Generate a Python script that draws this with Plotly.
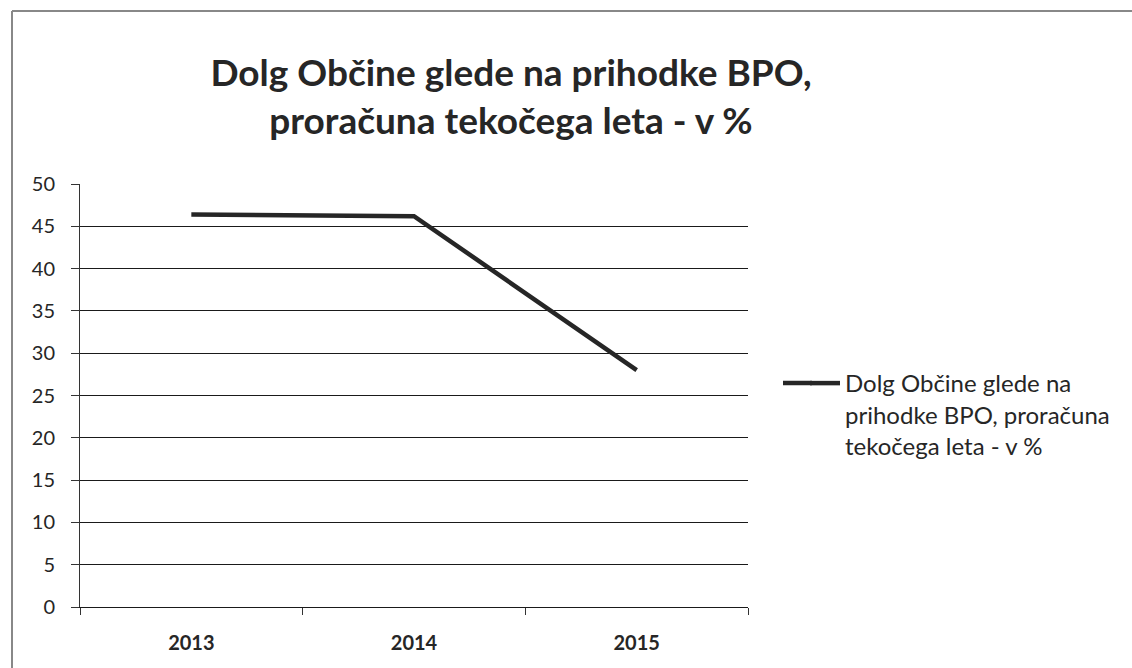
import plotly.graph_objects as go

years = ["2013", "2014", "2015"]
debt_pct = [46.4, 46.2, 28.0]
series_name = "Dolg Občine glede na<br>prihodke BPO, proračuna<br>tekočega leta - v %"
title_text = "Dolg Občine glede na prihodke BPO,<br>proračuna tekočega leta - v %"

W, H = 1132, 668
L, T = 80, 184
R = W - 748
B = H - 607
pw, ph = W - L - R, H - T - B

def px_x(x):
    return (x - L) / pw

def px_y(y):
    return (H - B - y) / ph

FONT = "Lato, Carlito, Calibri, sans-serif"
INK = "#262626"

fig = go.Figure()
fig.add_trace(go.Scatter(
    x=years, y=debt_pct, mode="lines", name=series_name,
    line=dict(color=INK, width=4.5),
))

fig.update_layout(
    width=W, height=H,
    margin=dict(l=L, r=R, t=T, b=B),
    paper_bgcolor="white", plot_bgcolor="white",
    font=dict(family=FONT, size=20, color=INK),
    title=dict(
        text=title_text, x=511 / W, xanchor="center", xref="container",
        y=1 - 86 / H, yanchor="top", yref="container",
        font=dict(family=FONT, size=37, color=INK, weight="bold"),
    ),
    showlegend=True,
    legend=dict(
        x=px_x(805), xanchor="left", y=px_y(361), yanchor="top",
        font=dict(family=FONT, size=24, color=INK),
        valign="top", bgcolor="rgba(0,0,0,0)",
    ),
    xaxis=dict(
        type="category", range=[-0.5, 2.5], showgrid=False,
        showline=True, linecolor="#1a1a1a", linewidth=1,
        ticks="outside", tickson="boundaries", ticklen=7, tickcolor="#333",
        ticklabelstandoff=18,
        tickfont=dict(family=FONT, size=20, color=INK, weight="bold"),
        zeroline=False,
    ),
    yaxis=dict(
        range=[0, 50], dtick=5, showgrid=True, gridcolor="#1a1a1a", gridwidth=1,
        showline=True, linecolor="#333", linewidth=1,
        ticks="outside", ticklen=8, tickcolor="#333",
        ticklabelstandoff=12,
        tickfont=dict(family=FONT, size=20, color=INK),
        zeroline=False,
    ),
    shapes=[
        dict(type="line", xref="paper", yref="paper",
             x0=px_x(12), x1=px_x(12), y0=px_y(668), y1=px_y(11),
             line=dict(color="#888", width=2)),
        dict(type="line", xref="paper", yref="paper",
             x0=px_x(12), x1=px_x(1132), y0=px_y(11), y1=px_y(11),
             line=dict(color="#888", width=2)),
        # lengthen the legend key line to the left, as in the original
        dict(type="line", xref="paper", yref="paper",
             x0=px_x(783), x1=px_x(812), y0=px_y(383), y1=px_y(383),
             line=dict(color=INK, width=4.5)),
    ],
)

fig.write_html(
    "out.html",
    config={"displayModeBar": False},
    post_script=(
        "document.documentElement.style.margin='0';"
        "document.body.style.margin='0';"
        "document.body.style.overflow='hidden';"
        "document.documentElement.style.overflow='hidden';"
    ),
)
